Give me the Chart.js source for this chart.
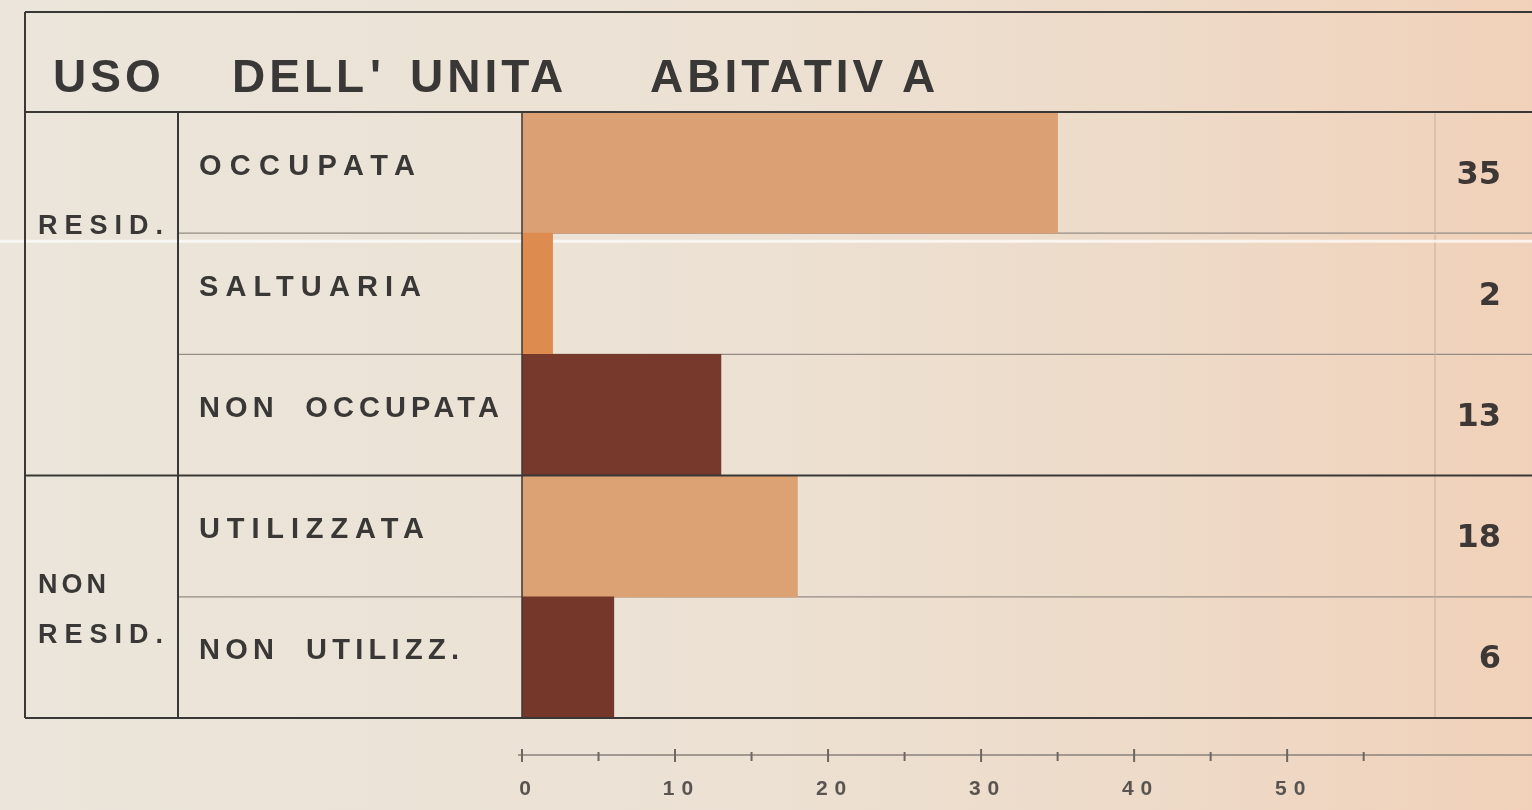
<!DOCTYPE html>
<html>
<head>
<meta charset="utf-8">
<script src="https://cdn.jsdelivr.net/npm/chart.js@4/dist/chart.umd.min.js"></script>
<style>
  html, body { margin: 0; padding: 0; background: #ece2d5; }
  canvas { display: block; }
</style>
</head>
<body>
<canvas id="chart" width="1532" height="810"></canvas>
<script>
const title = ['USO', "DELL", "'", 'UNITA', 'ABITATIV', 'A'];
const categories = ['OCCUPATA', 'SALTUARIA', 'NON OCCUPATA', 'UTILIZZATA', 'NON UTILIZZ.'];
const values = [35, 2, 13, 18, 6];
const groupNames = ['RESID.', 'NON RESID.'];
const groupSizes = [3, 2];
const axisLabels = [0, 10, 20, 30, 40, 50];
const axisMinorStep = 5;
const axisLast = 55;
const barColors = ['#dba174', '#de8b50', '#76392b', '#dca273', '#74372a'];

const INK = '#3a3836';

// draw text stretched with letter spacing to a given width
function fitText(ctx, text, x, y, w) {
    ctx.letterSpacing = '0px';
    const m = ctx.measureText(text).width;
    const n = text.length - 1;
    ctx.letterSpacing = (n > 0 ? (w - m) / n : 0) + 'px';
    ctx.fillText(text, x, y);
    ctx.letterSpacing = '0px';
}

function line(ctx, x1, y1, x2, y2, color, width) {
    ctx.beginPath();
    ctx.strokeStyle = color;
    ctx.lineWidth = width;
    ctx.moveTo(x1, y1);
    ctx.lineTo(x2, y2);
    ctx.stroke();
}

const tablePlugin = {
    id: 'table',
    beforeDraw(chart) {
        const { ctx, width, height } = chart;
        const g = ctx.createLinearGradient(0, 0, width, 0);
        g.addColorStop(0, '#ebe5db');
        g.addColorStop(0.5, '#ece1d3');
        g.addColorStop(0.8, '#eed9c6');
        g.addColorStop(1, '#f1d1b9');
        ctx.save();
        ctx.fillStyle = g;
        ctx.fillRect(0, 0, width, height);
        ctx.restore();
    },
    beforeDatasetsDraw(chart) {
        const { ctx, chartArea, scales } = chart;
        const y = scales.y;
        const edge = i => (y.getPixelForValue(i) + y.getPixelForValue(i + 1)) / 2;
        ctx.save();
        // faint row lines across the bar area
        [0, 1, 3].forEach(i => line(ctx, 178, edge(i), chartArea.right, edge(i), '#958c84', 1.2));
        line(ctx, 1435, chartArea.top, 1435, chartArea.bottom, '#c2b2a2', 1);
        // scanner streak
        line(ctx, 0, edge(0) + 8, chartArea.right, edge(0) + 8, 'rgba(255,255,255,0.7)', 3);
        ctx.restore();
    },
    afterDatasetsDraw(chart) {
        const { ctx, chartArea, scales } = chart;
        const x = scales.x, y = scales.y;
        const edge = i => (y.getPixelForValue(i) + y.getPixelForValue(i + 1)) / 2;
        const L = 25, R = chartArea.right, T = 12;
        ctx.save();

        // table frame
        line(ctx, L, T, R, T, INK, 2);
        line(ctx, L, chartArea.top, R, chartArea.top, INK, 2);
        line(ctx, L, chartArea.bottom, R, chartArea.bottom, INK, 2);
        line(ctx, L, T, L, chartArea.bottom, INK, 2);
        line(ctx, 178, chartArea.top, 178, chartArea.bottom, INK, 2);
        line(ctx, chartArea.left, chartArea.top, chartArea.left, chartArea.bottom, INK, 1.5);
        let start = 0;
        groupSizes.forEach((n, gi) => {
            if (gi > 0) line(ctx, L, edge(start - 1), R, edge(start - 1), INK, 2);
            start += n;
        });

        ctx.fillStyle = INK;
        ctx.textBaseline = 'alphabetic';

        // title
        ctx.font = 'bold 46px "Liberation Sans", Arial, sans-serif';
        ctx.letterSpacing = '4px';
        const tx = [53, 232, 370, 410, 650, 902];
        title.forEach((t, i) => ctx.fillText(t, tx[i], 92));
        ctx.letterSpacing = '0px';

        // category labels
        ctx.font = 'bold 29px "Liberation Sans", Arial, sans-serif';
        const cw = [216, 222, 300, 225, 260];
        categories.forEach((c, i) => {
            fitText(ctx, c.replace(' ', '  '), 199, y.getPixelForValue(i) + 2, cw[i]);
        });

        // group labels
        ctx.font = 'bold 27px "Liberation Sans", Arial, sans-serif';
        const gw = { 'NON': 68, 'RESID.': 125 };
        start = 0;
        groupNames.forEach((name, gi) => {
            const b = edge(start);
            const words = name.split(' ');
            words.forEach((w, k) => {
                fitText(ctx, w, 38, b + 1 - (words.length - 1) * 5 + k * 50, gw[w]);
            });
            start += groupSizes[gi];
        });

        // values
        ctx.font = 'bold 32px "DejaVu Sans", sans-serif';
        ctx.fillStyle = '#3d3835';
        ctx.textAlign = 'right';
        values.forEach((v, i) => {
            ctx.fillText(String(v), 1501, y.getPixelForValue(i) + 11);
        });
        ctx.textAlign = 'left';

        // bottom axis
        const ay = 755;
        line(ctx, chartArea.left - 4, ay, R, ay, '#8a827b', 1.5);
        for (let v = 0; v <= axisLast; v += axisMinorStep) {
            const px = x.getPixelForValue(v);
            const major = v % 10 === 0;
            line(ctx, px, ay - (major ? 6 : 3), px, ay + (major ? 7 : 6), '#6e6660', 2);
        }
        ctx.font = 'bold 21px "Liberation Sans", Arial, sans-serif';
        ctx.fillStyle = '#5a5450';
        ctx.letterSpacing = '7px';
        axisLabels.forEach(v => {
            const s = String(v);
            const w = ctx.measureText(s).width - 7;
            ctx.fillText(s, x.getPixelForValue(v) + 3 - w / 2, 795);
        });
        ctx.restore();
    }
};

const ctx = document.getElementById('chart').getContext('2d');
new Chart(ctx, {
    type: 'bar',
    data: {
        labels: categories,
        datasets: [{
            data: values,
            backgroundColor: barColors,
            borderWidth: 0,
            barPercentage: 1,
            categoryPercentage: 1
        }]
    },
    options: {
        indexAxis: 'y',
        responsive: false,
        animation: false,
        devicePixelRatio: 1,
        layout: { padding: { left: 522, right: 0, top: 112, bottom: 92 } },
        plugins: { legend: { display: false }, tooltip: { enabled: false } },
        scales: {
            x: { display: false, min: 0, max: 66 },
            y: { display: false }
        }
    },
    plugins: [tablePlugin]
});
</script>
</body>
</html>
